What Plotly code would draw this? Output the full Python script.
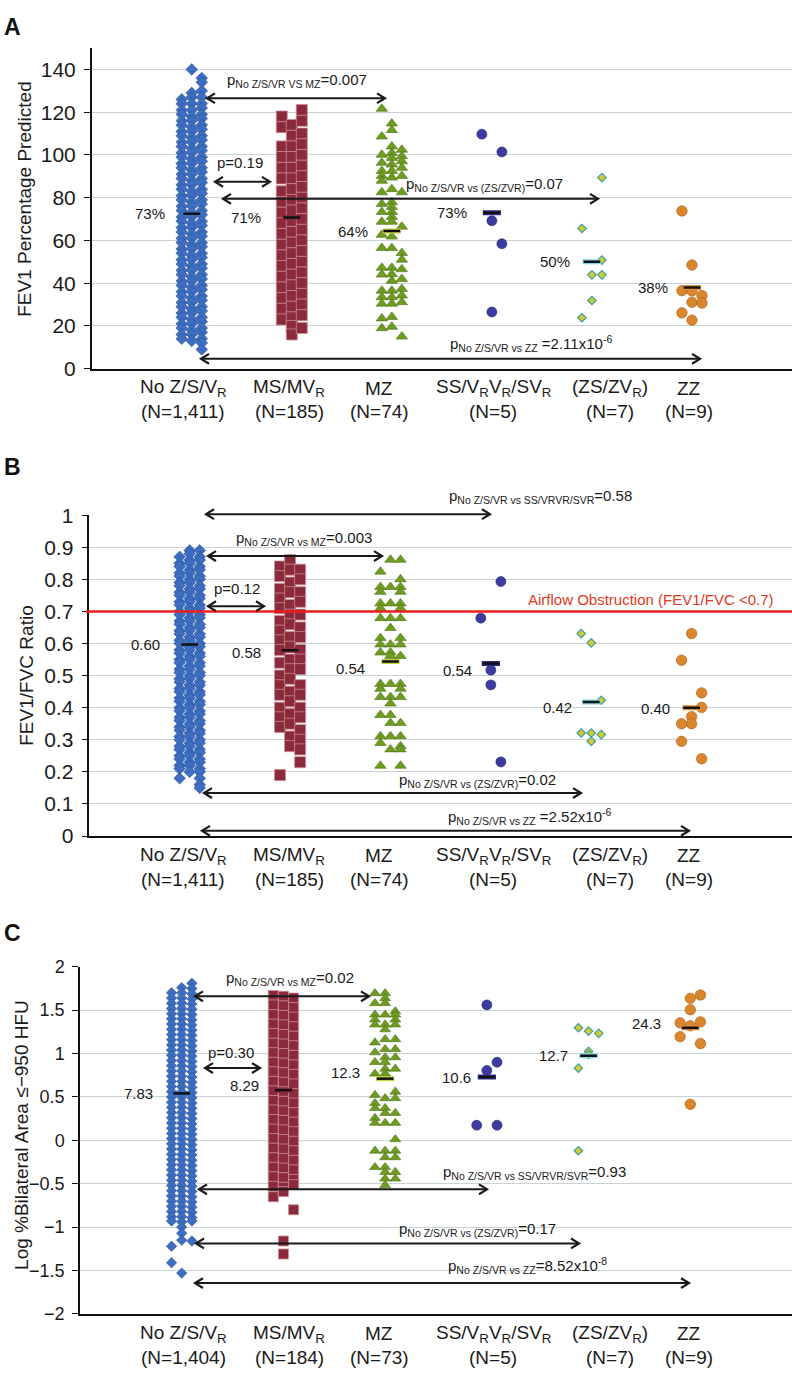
import plotly.graph_objects as go

W, H = 792, 1378
FONT = "Liberation Sans, Arial, Helvetica, sans-serif"

# --------------------------------------------------------------------------- #
# Data (each group = [left, middle, right] swarm column)
# --------------------------------------------------------------------------- #
CATEGORIES = ["No Z/S/V<sub>R</sub>", "MS/MV<sub>R</sub>", "MZ",
              "SS/V<sub>R</sub>V<sub>R</sub>/SV<sub>R</sub>", "(ZS/ZV<sub>R</sub>)", "ZZ"]
N_AB = ["1,411", "185", "74", "5", "7", "9"]
N_C = ["1,404", "184", "73", "5", "7", "9"]

# Panel A: FEV1 % predicted
fev1_noz = [
    [126, 124, 121, 119, 116, 114, 111, 109, 106, 104, 101, 99, 96, 94, 91, 89, 86, 84, 81, 79,
     76, 74, 71, 69, 66, 64, 61, 59, 56, 54, 51, 49, 46, 44, 41, 39, 36, 34, 31, 29, 26, 24, 21,
     19, 16, 14],
    [140, 129, 127, 124, 121, 118, 116, 113, 111, 108, 106, 103, 101, 98, 96, 93, 91, 88, 86, 83,
     81, 78, 76, 73, 71, 68, 66, 63, 61, 58, 56, 53, 51, 48, 46, 43, 41, 38, 36, 33, 31, 28, 26,
     23, 21, 18, 16, 13],
    [136, 134, 130, 127, 124, 122, 119, 117, 114, 112, 109, 107, 104, 102, 99, 97, 94, 92, 89, 87,
     84, 82, 79, 77, 74, 72, 69, 67, 64, 62, 59, 57, 54, 52, 49, 47, 44, 42, 39, 37, 34, 32, 29,
     27, 24, 22, 19, 17, 14, 12, 9],
]
fev1_ms = [
    [118, 113, 104, 99, 94, 89, 83, 78, 73, 68, 63, 58, 53, 48, 43, 38, 33, 28, 23],
    [114, 109, 104, 99, 94, 89, 84, 79, 74, 69, 64, 59, 54, 49, 44, 39, 34, 29, 24, 20, 16],
    [121, 116, 110, 105, 100, 95, 90, 85, 80, 75, 70, 65, 60, 55, 50, 45, 40, 35, 30, 25, 19],
]
fev1_mz = [
    [121.6, 108.6, 100.1, 96.3, 92.5, 90.2, 87.9, 82.5, 77.1, 73.3, 68.7, 62.6, 56.5, 47.2, 44.0,
     36.5, 33.4, 30.4, 23.5, 18.9],
    [114.7, 111.6, 104.0, 100.9, 98.6, 95.5, 92.5, 89.4, 84.0, 77.9, 75.6, 73.3, 71.0, 68.7, 61.8,
     56.4, 47.2, 44.2, 41.1, 36.5, 33.4, 30.4, 24.2, 19.6],
    [102.4, 99.4, 97.0, 94.0, 90.2, 82.5, 66.4, 54.1, 51.0, 46.5, 41.9, 37.3, 34.2, 31.1, 15.0],
]
fev1_ss = [[109.7], [69.2, 26.5], [101.4, 58.4]]
fev1_zs = [[65.6, 23.8], [43.9, 31.9], [89.4, 50.8, 43.9]]
fev1_zz = [[73.8, 36.5, 26.1], [48.5, 36.4, 31.1, 22.7], [34.2, 30.7]]
fev1_median = [72.5, 70.7, 64.4, 73, 50, 38]
fev1_median_text = ["73%", "71%", "64%", "73%", "50%", "38%"]

# Panel B: FEV1/FVC ratio
ratio_noz = [
    [0.87, 0.85, 0.84, 0.82, 0.81, 0.79, 0.78, 0.76, 0.75, 0.73, 0.72, 0.70, 0.69, 0.67, 0.66,
     0.64, 0.63, 0.61, 0.60, 0.58, 0.57, 0.55, 0.54, 0.52, 0.51, 0.49, 0.48, 0.46, 0.45, 0.43,
     0.42, 0.40, 0.39, 0.37, 0.36, 0.34, 0.33, 0.31, 0.30, 0.28, 0.27, 0.25, 0.24, 0.22, 0.21, 0.18],
    [0.89, 0.88, 0.86, 0.85, 0.83, 0.82, 0.80, 0.79, 0.77, 0.76, 0.74, 0.73, 0.71, 0.70, 0.68,
     0.67, 0.65, 0.64, 0.62, 0.61, 0.59, 0.58, 0.56, 0.55, 0.53, 0.52, 0.50, 0.49, 0.47, 0.46,
     0.44, 0.43, 0.41, 0.40, 0.38, 0.37, 0.35, 0.34, 0.32, 0.31, 0.29, 0.28, 0.26, 0.25, 0.23,
     0.22, 0.20],
    [0.89, 0.87, 0.86, 0.84, 0.83, 0.81, 0.80, 0.78, 0.77, 0.75, 0.74, 0.72, 0.71, 0.69, 0.68,
     0.66, 0.65, 0.63, 0.62, 0.60, 0.59, 0.57, 0.56, 0.54, 0.53, 0.51, 0.50, 0.48, 0.47, 0.45,
     0.44, 0.42, 0.41, 0.39, 0.38, 0.36, 0.35, 0.33, 0.32, 0.30, 0.29, 0.27, 0.26, 0.24, 0.23,
     0.21, 0.20, 0.18, 0.16, 0.15],
]
ratio_ms = [
    [0.84, 0.81, 0.77, 0.74, 0.71, 0.67, 0.64, 0.61, 0.58, 0.54, 0.50, 0.47, 0.44, 0.40, 0.37,
     0.34, 0.19],
    [0.86, 0.83, 0.79, 0.76, 0.72, 0.69, 0.66, 0.62, 0.59, 0.55, 0.52, 0.49, 0.45, 0.42, 0.38,
     0.35, 0.31, 0.28],
    [0.83, 0.80, 0.76, 0.73, 0.69, 0.65, 0.62, 0.58, 0.55, 0.52, 0.47, 0.44, 0.40, 0.37, 0.33,
     0.30, 0.27, 0.23],
]
ratio_mz = [
    [0.824, 0.776, 0.761, 0.725, 0.71, 0.679, 0.617, 0.597, 0.572, 0.474, 0.459, 0.433, 0.377,
     0.311, 0.29, 0.219],
    [0.861, 0.776, 0.725, 0.679, 0.648, 0.597, 0.572, 0.561, 0.474, 0.433, 0.413, 0.377, 0.352,
     0.311, 0.27],
    [0.861, 0.80, 0.776, 0.761, 0.725, 0.71, 0.679, 0.617, 0.597, 0.561, 0.474, 0.459, 0.433,
     0.352, 0.311, 0.28, 0.27, 0.219],
]
ratio_ss = [[0.679], [0.517, 0.471], [0.793, 0.231]]
ratio_zs = [[0.631, 0.321], [0.602, 0.321, 0.295], [0.423, 0.316]]
ratio_zz = [[0.548, 0.35, 0.295], [0.631, 0.372, 0.35], [0.446, 0.401, 0.241]]
ratio_median = [0.597, 0.579, 0.544, 0.538, 0.418, 0.40]
ratio_median_text = ["0.60", "0.58", "0.54", "0.54", "0.42", "0.40"]
OBSTRUCTION = 0.7

# Panel C: log % bilateral area <= -950 HFU
lav_noz = [
    [1.70, 1.64, 1.58, 1.52, 1.46, 1.40, 1.34, 1.28, 1.22, 1.16, 1.10, 1.04, 0.98, 0.92, 0.86,
     0.80, 0.74, 0.68, 0.62, 0.56, 0.50, 0.44, 0.38, 0.32, 0.26, 0.20, 0.14, 0.08, 0.02, -0.04,
     -0.10, -0.16, -0.22, -0.28, -0.34, -0.40, -0.46, -0.52, -0.58, -0.64, -0.70, -0.76, -0.82,
     -0.88, -0.93, -1.22, -1.41],
    [1.76, 1.70, 1.64, 1.58, 1.52, 1.46, 1.40, 1.34, 1.28, 1.22, 1.16, 1.10, 1.04, 0.98, 0.92,
     0.86, 0.80, 0.74, 0.68, 0.62, 0.56, 0.50, 0.44, 0.38, 0.32, 0.26, 0.20, 0.14, 0.08, 0.02,
     -0.04, -0.10, -0.16, -0.22, -0.28, -0.34, -0.40, -0.46, -0.52, -0.58, -0.64, -0.70, -0.76,
     -0.82, -0.88, -0.94, -1.00, -1.07, -1.15, -1.53],
    [1.81, 1.75, 1.69, 1.63, 1.57, 1.51, 1.45, 1.39, 1.33, 1.27, 1.21, 1.15, 1.09, 1.03, 0.97,
     0.91, 0.85, 0.79, 0.73, 0.67, 0.61, 0.55, 0.49, 0.43, 0.37, 0.31, 0.25, 0.19, 0.13, 0.07,
     0.01, -0.05, -0.11, -0.17, -0.23, -0.29, -0.35, -0.41, -0.47, -0.53, -0.59, -0.65, -0.71,
     -0.77, -0.83, -0.89, -0.93, -1.16],
]
lav_ms = [
    [1.67, 1.56, 1.45, 1.34, 1.23, 1.12, 1.01, 0.90, 0.79, 0.68, 0.57, 0.46, 0.35, 0.24, 0.13,
     0.02, -0.09, -0.20, -0.31, -0.42, -0.53, -0.65],
    [1.66, 1.55, 1.44, 1.33, 1.22, 1.11, 1.00, 0.89, 0.78, 0.67, 0.56, 0.45, 0.34, 0.23, 0.12,
     0.01, -0.10, -0.21, -0.32, -0.43, -0.54, -0.59, -1.16, -1.31],
    [1.64, 1.53, 1.42, 1.31, 1.20, 1.09, 0.98, 0.87, 0.76, 0.65, 0.54, 0.43, 0.32, 0.21, 0.10,
     -0.01, -0.12, -0.23, -0.34, -0.45, -0.51, -0.80],
]
lav_mz = [
    [1.694, 1.58, 1.448, 1.392, 1.334, 1.127, 1.013, 0.90, 0.768, 0.522, 0.428, 0.371, 0.257,
     0.20, -0.12, -0.309],
    [1.694, 1.637, 1.58, 1.448, 1.334, 1.278, 1.165, 1.051, 0.956, 0.90, 0.825, 0.768, 0.484,
     0.371, 0.315, 0.20, -0.12, -0.196, -0.309, -0.366, -0.442, -0.517],
    [1.486, 1.448, 1.392, 1.334, 1.165, 1.051, 0.956, 0.825, 0.56, 0.484, 0.315, 0.20, 0.012,
     -0.12, -0.196, -0.366, -0.442],
]
lav_ss = [[0.174], [1.561, 0.805], [0.90, 0.174]]
lav_zs = [[1.297, 0.832, -0.12], [1.259, 1.025, 0.99], [1.233]]
lav_zz = [[1.354, 1.195], [1.637, 1.505, 1.32, 0.416], [1.675, 1.365, 1.116]]
lav_median = [0.541, 0.578, 0.711, 0.73, 0.975, 1.297]
lav_median_text = ["7.83", "8.29", "12.3", "10.6", "12.7", "24.3"]

# --------------------------------------------------------------------------- #
# Styling
# --------------------------------------------------------------------------- #
STYLES = [
    dict(symbol="diamond", color="#3d6ec2", line=dict(color="#2a5298", width=0.6)),
    dict(symbol="square", color="#8b2a3b", line=dict(color="#c98c96", width=0.8)),
    dict(symbol="triangle-up", color="#6e9c20", line=dict(color="#4b7012", width=0.6)),
    dict(symbol="circle", color="#3c3b9f", line=dict(color="#26256e", width=0.6)),
    dict(symbol="diamond", color="#d5cb2c", line=dict(color="#3c9fa5", width=1.2)),
    dict(symbol="circle", color="#d9862d", line=dict(color="#a75c17", width=0.6)),
]
MEDIAN_OUTLINE = ["#3d6ec2", "#8b2a3b", "#c8d43a", "#2c2b80", "#7fd4e8", "#e58f35"]
OFFSETS = (-0.1, 0.0, 0.1)
GRID = "#c8d3d5"
INK = "#1a1a1a"


def px_x(px):
    return px / W


def px_y(py):
    return 1 - py / H


PANELS = [
    dict(letter="A", letter_y=15, groups=[fev1_noz, fev1_ms, fev1_mz, fev1_ss, fev1_zs, fev1_zz],
         sizes=[9, 11, 10, 10, 6.5, 10.5], median=fev1_median, median_text=fev1_median_text,
         label_dx=[-0.25, -0.29, -0.22, -0.23, -0.20, -0.22], label_dy=[0, 0, 0, 0, 0, 0],
         yrange=[0, 150], ytickvals=[0, 20, 40, 60, 80, 100, 120, 140], tick_size=21,
         x_left=91.7, y_top=36.7, y_bottom=362.7, n=N_AB,
         title="FEV1 Percentage Predicted", title_x=25, title_y=190),
    dict(letter="B", letter_y=463, groups=[ratio_noz, ratio_ms, ratio_mz, ratio_ss, ratio_zs, ratio_zz],
         sizes=[9, 11, 10, 10, 6.5, 10.5], median=ratio_median, median_text=ratio_median_text,
         label_dx=[-0.28, -0.27, -0.23, -0.17, -0.17, -0.20], label_dy=[0, -2, -7, -7, -6, -1],
         yrange=[0, 1], ytickvals=[0, 0.1, 0.2, 0.3, 0.4, 0.5, 0.6, 0.7, 0.8, 0.9, 1], tick_size=21,
         x_left=89.3, y_top=511.7, y_bottom=838, n=N_AB,
         title="FEV1/FVC Ratio", title_x=27, title_y=675),
    dict(letter="C", letter_y=937, groups=[lav_noz, lav_ms, lav_mz, lav_ss, lav_zs, lav_zz],
         sizes=[8, 10, 9.5, 10, 6.5, 10.5], median=lav_median, median_text=lav_median_text,
         label_dx=[-0.26, -0.22, -0.23, -0.14, -0.18, -0.27], label_dy=[0, 5, 6, 0, 0, 4],
         yrange=[-2, 2], ytickvals=[-2, -1.5, -1, -0.5, 0, 0.5, 1, 1.5, 2], tick_size=18,
         x_left=80, y_top=971, y_bottom=1324, n=N_C,
         title="Log %Bilateral Area \u2264\u2212950 HFU", title_x=22, title_y=1142),
]

# (text, centre x px, centre y px) and double-headed arrows (x0 px, x1 px, y px)
P_TEXTS = [
    ("p<sub>No Z/S/VR VS MZ</sub>=0.007", 297, 70),
    ("p=0.19", 240, 153),
    ("p<sub>No Z/S/VR vs (ZS/ZVR)</sub>=0.07", 484, 175),
    ("p<sub>No Z/S/VR vs ZZ</sub> =2.11x10<sup>-6</sup>", 531, 337),
    ("p<sub>No Z/S/VR vs SS/VRVR/SVR</sub>=0.58", 540, 493),
    ("p<sub>No Z/S/VR vs MZ</sub>=0.003", 304, 535),
    ("p=0.12", 237, 586),
    ("p<sub>No Z/S/VR vs (ZS/ZVR)</sub>=0.02", 477, 782),
    ("p<sub>No Z/S/VR vs ZZ</sub> =2.52x10<sup>-6</sup>", 529, 818),
    ("p<sub>No Z/S/VR vs MZ</sub>=0.02", 290, 983),
    ("p=0.30", 231, 1058),
    ("p<sub>No Z/S/VR vs SS/VRVR/SVR</sub>=0.93", 534, 1180),
    ("p<sub>No Z/S/VR vs (ZS/ZVR)</sub>=0.17", 477, 1238),
    ("p<sub>No Z/S/VR vs ZZ</sub>=8.52x10<sup>-8</sup>", 527, 1275),
]
ARROWS = [
    (207, 385, 87.7), (215, 270, 172.7), (223, 598, 190), (201, 700, 352.7),
    (206, 490, 510.7), (208, 382, 553.3), (208, 264, 604.3), (204, 581, 794.3), (202, 689, 832.7),
    (195, 369, 1001), (205, 260, 1074), (199, 487, 1197.3), (196, 579, 1252.3), (195, 689, 1292.7),
]
CAT_LABEL_X = [183, 289, 379, 493, 610, 689]

# --------------------------------------------------------------------------- #
# Figure
# --------------------------------------------------------------------------- #
fig = go.Figure()
annotations = []
shapes = []
layout = dict(
    width=W, height=H, margin=dict(l=0, r=0, t=0, b=0),
    paper_bgcolor="white", plot_bgcolor="white", showlegend=False,
    font=dict(family=FONT, color=INK),
)

for p, panel in enumerate(PANELS):
    suffix = "" if p == 0 else str(p + 1)
    xa, ya = "x" + suffix, "y" + suffix

    for k, cols in enumerate(panel["groups"]):
        xs, ys = [], []
        for off, col in zip(OFFSETS, cols):
            xs += [k + 1 + off] * len(col)
            ys += col
        st = STYLES[k]
        fig.add_trace(go.Scatter(
            x=xs, y=ys, xaxis=xa, yaxis=ya, mode="markers", hoverinfo="skip",
            marker=dict(symbol=st["symbol"], size=panel["sizes"][k], color=st["color"], line=st["line"]),
        ))

    cats = list(range(1, len(CATEGORIES) + 1))
    fig.add_trace(go.Scatter(
        x=cats, y=panel["median"], xaxis=xa, yaxis=ya, mode="markers", hoverinfo="skip",
        marker=dict(symbol="line-ew", size=13, line=dict(color=MEDIAN_OUTLINE, width=5)),
    ))
    fig.add_trace(go.Scatter(
        x=cats, y=panel["median"], xaxis=xa, yaxis=ya, mode="markers", hoverinfo="skip",
        marker=dict(symbol="line-ew", size=12, line=dict(color="#111111", width=2.5)),
    ))
    for k, txt in enumerate(panel["median_text"]):
        annotations.append(dict(
            x=k + 1 + panel["label_dx"][k], y=panel["median"][k], xref=xa, yref=ya,
            text=txt, showarrow=False, xanchor="right", yanchor="middle",
            yshift=panel["label_dy"][k], font=dict(size=15, color=INK),
        ))

    layout["xaxis" + suffix] = dict(
        domain=[px_x(panel["x_left"]), 1], range=[0, 7], anchor=ya,
        showline=True, linecolor="#111111", linewidth=2, showgrid=False,
        zeroline=False, showticklabels=False, ticks="", fixedrange=True,
    )
    layout["yaxis" + suffix] = dict(
        domain=[px_y(panel["y_bottom"]), px_y(panel["y_top"])], range=panel["yrange"], anchor=xa,
        showline=True, linecolor="#111111", linewidth=1.5, ticks="outside", ticklen=6,
        tickcolor="#111111", tickvals=panel["ytickvals"], showgrid=True, gridcolor=GRID,
        gridwidth=1, zeroline=False, tickfont=dict(size=panel["tick_size"], color=INK),
        ticklabelstandoff=4, fixedrange=True,
    )

    # category labels under the axis (two lines placed separately for tighter spacing)
    for k, cat in enumerate(CATEGORIES):
        for line_txt, dy in ((cat, 20), (f"(N={panel['n'][k]})", 44)):
            annotations.append(dict(
                x=px_x(CAT_LABEL_X[k]), y=px_y(panel["y_bottom"] + dy), xref="paper", yref="paper",
                text=line_txt, showarrow=False, xanchor="center", yanchor="middle",
                font=dict(size=19, color=INK),
            ))
    # y title and panel letter
    annotations.append(dict(
        x=px_x(panel["title_x"]), y=px_y(panel["title_y"]), xref="paper", yref="paper",
        text=panel["title"], textangle=-90, showarrow=False, xanchor="center", yanchor="middle",
        font=dict(size=19, color=INK),
    ))
    annotations.append(dict(
        x=px_x(2), y=px_y(panel["letter_y"]), xref="paper", yref="paper",
        text=f"<b>{panel['letter']}</b>", showarrow=False, xanchor="left", yanchor="middle",
        font=dict(size=23, color="#111111"),
    ))

# airflow obstruction threshold (panel B)
shapes.append(dict(type="line", xref="x2 domain", yref="y2", x0=-0.005, x1=1, y0=OBSTRUCTION,
                   y1=OBSTRUCTION, line=dict(color="#ee1c1c", width=2.5)))
annotations.append(dict(
    x=px_x(651), y=px_y(597), xref="paper", yref="paper", showarrow=False,
    xanchor="center", yanchor="middle",
    text=f"Airflow Obstruction (FEV1/FVC &lt;{OBSTRUCTION})", font=dict(size=15, color="#e2371d"),
))

for txt, cx, cy in P_TEXTS:
    annotations.append(dict(
        x=px_x(cx), y=px_y(cy), xref="paper", yref="paper", text=txt, showarrow=False,
        xanchor="center", yanchor="middle", font=dict(size=15, color=INK),
    ))

# comparison arrows: shaft + open chevron heads at both ends
HEAD_L, HEAD_W = 8, 5
for x0, x1, y in ARROWS:
    shapes.append(dict(type="line", xref="paper", yref="paper",
                       x0=px_x(x0 + 1), x1=px_x(x1 - 1), y0=px_y(y), y1=px_y(y),
                       line=dict(color=INK, width=2)))
    for tip, back in ((x1, x1 - HEAD_L), (x0, x0 + HEAD_L)):
        path = (f"M {px_x(back)},{px_y(y - HEAD_W)} L {px_x(tip)},{px_y(y)} "
                f"L {px_x(back)},{px_y(y + HEAD_W)}")
        shapes.append(dict(type="path", xref="paper", yref="paper", path=path,
                           line=dict(color=INK, width=2.2)))

layout["annotations"] = annotations
layout["shapes"] = shapes
fig.update_layout(**layout)
# the page's default body margin would offset the figure by 8 px
fig.write_html("out.html", config={"displayModeBar": False},
               post_script="document.body.style.margin = '0px';")
